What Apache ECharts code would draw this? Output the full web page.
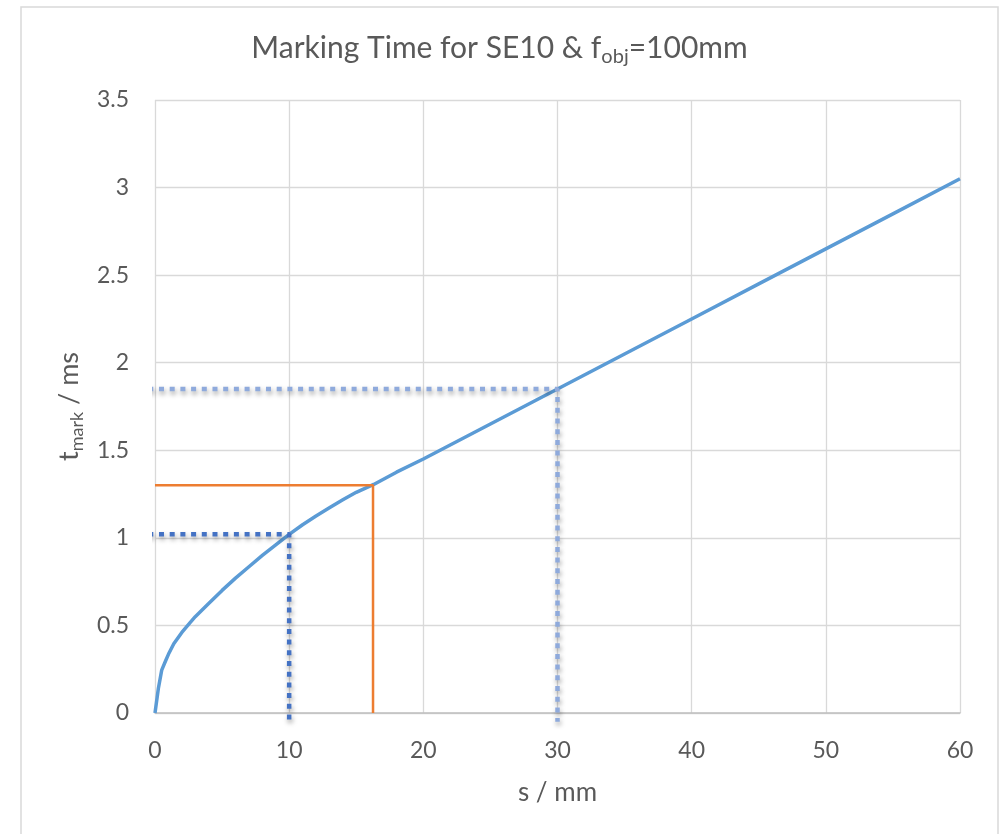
<!DOCTYPE html>
<html>
<head>
<meta charset="utf-8">
<script src="https://cdn.jsdelivr.net/npm/echarts@6/dist/echarts.min.js"></script>
<style>
  html, body { margin: 0; padding: 0; background: #fff; }
  #chart { width: 999px; height: 834px; }
</style>
</head>
<body>
<div id="chart"></div>
<script>
// s / mm and t_mark / ms
var sValues = [0, 0.25, 0.5, 0.8, 1, 1.4, 2, 2.6, 3, 4, 5, 6, 7, 8, 9, 10, 11, 12, 13, 14, 15, 16.3, 18, 20, 25, 30, 35, 40, 45, 50, 55, 60];
var tValues = [0, 0.14, 0.245, 0.3, 0.335, 0.395, 0.46, 0.515, 0.55, 0.625, 0.70, 0.77, 0.835, 0.90, 0.96, 1.02, 1.075, 1.125, 1.172, 1.217, 1.26, 1.305, 1.375, 1.45, 1.65, 1.85, 2.05, 2.25, 2.45, 2.65, 2.85, 3.05];

// guide lines
var darkGuideS = [-0.5, 10, 10];
var darkGuideT = [1.02, 1.02, -0.05];
var orangeGuideS = [0, 16.25, 16.25];
var orangeGuideT = [1.3, 1.3, 0];
var lightGuideS = [-0.5, 30, 30];
var lightGuideT = [1.85, 1.85, -0.05];

var xTicks = [0, 10, 20, 30, 40, 50, 60];
var yTicks = [0, 0.5, 1, 1.5, 2, 2.5, 3, 3.5];

function pairs(xs, ys) {
  var out = [];
  for (var i = 0; i < xs.length; i++) out.push([xs[i], ys[i]]);
  return out;
}

var FONT = 'Lato';
var GREY = '#595959';

var chart = echarts.init(document.getElementById('chart'), null, { renderer: 'canvas' });

var dotShadow = {
  shadowColor: 'rgba(0,0,0,0.4)',
  shadowBlur: 5,
  shadowOffsetX: 1,
  shadowOffsetY: 3
};

var option = {
  backgroundColor: '#ffffff',
  animation: false,
  graphic: [{
    type: 'rect',
    shape: { x: 21, y: 7, width: 977, height: 860 },
    style: { fill: 'none', stroke: '#D9D9D9', lineWidth: 1.5 },
    silent: true
  }],
  title: {
    text: '{a|Marking Time for SE10 & f}{sub|obj}{a|=100mm}',
    left: 'center',
    top: 28,
    textStyle: {
      rich: {
        a: { fontFamily: FONT, fontSize: 30, fontWeight: 'normal', color: GREY, lineHeight: 34, verticalAlign: 'top' },
        sub: { fontFamily: FONT, fontSize: 20, fontWeight: 'normal', color: GREY, lineHeight: 20, padding: [22, 0, 0, 0], verticalAlign: 'bottom' }
      }
    }
  },
  grid: { left: 155, right: 39, top: 100, bottom: 121, containLabel: false },
  xAxis: {
    type: 'value',
    min: xTicks[0],
    max: xTicks[xTicks.length - 1],
    interval: 10,
    name: 's / mm',
    nameLocation: 'middle',
    nameGap: 67,
    nameTextStyle: { fontFamily: FONT, fontSize: 26, color: GREY },
    axisLine: { show: true, onZero: false, lineStyle: { color: '#BFBFBF', width: 1.5 } },
    axisTick: { show: false },
    axisLabel: { fontFamily: FONT, fontSize: 23, color: GREY, margin: 26 },
    splitLine: { show: true, lineStyle: { color: '#D9D9D9', width: 1.3 } }
  },
  yAxis: {
    type: 'value',
    min: yTicks[0],
    max: yTicks[yTicks.length - 1],
    interval: 0.5,
    name: '{a|t}{sub|mark}{a| / ms}',
    nameLocation: 'middle',
    nameRotate: 90,
    nameGap: 68,
    nameTextStyle: {
      rich: {
        a: { fontFamily: FONT, fontSize: 27, color: GREY, lineHeight: 30, verticalAlign: 'top' },
        sub: { fontFamily: FONT, fontSize: 18, color: GREY, lineHeight: 18, padding: [19, 0, 0, 0], verticalAlign: 'bottom' }
      }
    },
    axisLine: { show: false },
    axisTick: { show: false },
    axisLabel: { fontFamily: FONT, fontSize: 23, color: GREY, margin: 26 },
    splitLine: { show: true, lineStyle: { color: '#D9D9D9', width: 1.3 } }
  },
  series: [{
    name: 't_mark',
    type: 'line',
    data: pairs(sValues, tValues),
    showSymbol: false,
    smooth: false,
    lineStyle: { color: '#5B9BD5', width: 3.5, join: 'round' },
    z: 2
  }, {
    name: 'orange guide',
    type: 'line',
    data: pairs(orangeGuideS, orangeGuideT),
    showSymbol: false,
    clip: false,
    lineStyle: { color: '#ED7D31', width: 2.5 },
    z: 3
  }, {
    name: 'dark guide',
    type: 'line',
    data: pairs(darkGuideS, darkGuideT),
    showSymbol: false,
    clip: false,
    lineStyle: Object.assign({ color: '#4472C4', width: 4.5, type: [5, 5.7] }, dotShadow),
    z: 4
  }, {
    name: 'light guide',
    type: 'line',
    data: pairs(lightGuideS, lightGuideT),
    showSymbol: false,
    clip: false,
    lineStyle: Object.assign({ color: '#8FAADC', width: 4.5, type: [5, 5.7] }, dotShadow),
    z: 4
  }]
};

chart.setOption(option);
</script>
</body>
</html>
